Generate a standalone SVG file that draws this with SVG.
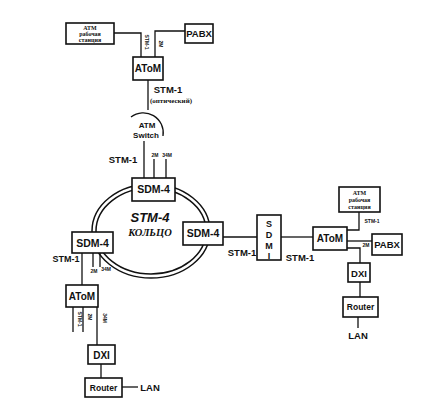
<svg xmlns="http://www.w3.org/2000/svg" width="437" height="403" viewBox="0 0 437 403">
<style>
.box{fill:#fff;stroke:#111;stroke-width:1.6}
.ln{fill:none;stroke:#111;stroke-width:1.3}
.t{font-family:"Liberation Sans",Arial,sans-serif;font-weight:bold;fill:#111;text-anchor:middle}
.b{font-size:10.5px}
.l{font-size:9px}
.s{font-size:5px}
.w{font-family:"Liberation Serif","Times New Roman",serif;font-weight:bold;font-size:6px;fill:#111;text-anchor:middle}
</style>
<rect width="437" height="403" fill="#fff"/>
<g id="connectors">
<path class="ln" d="M114,33 H141 V57"/>
<path class="ln" d="M185,31 H155 V57"/>
<path class="ln" d="M148,80 V110"/>
<path class="ln" d="M131,117 A20,20 0 0 1 163,136"/>
<path class="ln" d="M144,141 V178"/>
<path class="ln" d="M154,159 V178 M166,159 V178"/>
<ellipse cx="151" cy="231" rx="59" ry="47" fill="none" stroke="#111" stroke-width="1.5"/>
<ellipse cx="151" cy="231" rx="55" ry="43" fill="none" stroke="#111" stroke-width="1.5"/>
<path class="ln" d="M82,253 V285"/>
<path class="ln" d="M93,253 V267 M100,253 V267"/>
<path class="ln" d="M73,307 V332 M83,307 V332"/>
<path class="ln" d="M97,307 V345"/>
<path class="ln" d="M101,364 V378"/>
<path class="ln" d="M122,387 H138"/>
<path class="ln" d="M223,237 H257"/>
<path class="ln" d="M281,237 H313"/>
<path class="ln" d="M359,212 V230 H347"/>
<path class="ln" d="M347,241 H372"/>
<path class="ln" d="M347,248 H360 V263"/>
<path class="ln" d="M360,282 V297"/>
<path class="ln" d="M358,317 V328"/>
</g>
<g id="labels">
<text class="t s" transform="translate(145,42) rotate(90)">STM-1</text>
<text class="t s" transform="translate(159,44) rotate(90)">2M</text>
<text class="t l" x="168" y="93" style="font-size:9.5px">STM-1</text>
<text class="w" x="171" y="103" style="font-size:7px">(оптический)</text>
<text class="t l" x="147" y="128" style="font-size:8px">ATM</text>
<text class="t l" x="146" y="138" style="font-size:8px">Switch</text>
<text class="t l" x="123" y="163" style="font-size:9.5px">STM-1</text>
<text class="t s" x="155" y="157">2M</text>
<text class="t s" x="167" y="157">34M</text>
<text class="t" x="150" y="222" style="font-size:13px;font-style:italic">STM-4</text>
<text class="t" x="150" y="236" style="font-size:10.5px;font-style:italic;font-family:'Liberation Serif',serif">КОЛЬЦО</text>
<text class="t l" x="66" y="262" style="font-size:9px">STM-1</text>
<text class="t s" x="94" y="273">2M</text>
<text class="t s" x="106" y="271">34M</text>
<text class="t s" transform="translate(78,319) rotate(90)">STM-1</text>
<text class="t s" transform="translate(88,317) rotate(90)">2M</text>
<text class="t s" transform="translate(103,318) rotate(90)">34M</text>
<text class="t l" x="150" y="391" style="font-size:9.5px">LAN</text>
<text class="t l" x="242" y="256" style="font-size:9.5px">STM-1</text>
<text class="t l" x="300" y="261" style="font-size:9.5px">STM-1</text>
<text class="t s" x="372" y="223">STM-1</text>
<text class="t s" x="366" y="247">2M</text>
<text class="t l" x="358" y="339" style="font-size:9.5px">LAN</text>
</g>
<g id="atm-ws-1">
<rect class="box" x="66" y="23" width="48" height="21"/>
<text class="w" x="90" y="30">ATM</text>
<text class="w" x="90" y="36">рабочая</text>
<text class="w" x="90" y="42">станция</text>
</g>
<g id="pabx-1">
<rect class="box" x="185" y="24" width="28" height="19"/>
<text class="t b" x="199" y="37" style="font-size:9.5px">PABX</text>
</g>
<g id="atom-1">
<rect class="box" x="133" y="57" width="30" height="23"/>
<text class="t b" x="148" y="72" style="font-size:10px">AToM</text>
</g>
<g id="sdm4-top">
<rect class="box" x="132" y="178" width="43" height="23"/>
<text class="t b" x="153.5" y="193">SDM-4</text>
</g>
<g id="sdm4-right">
<rect class="box" x="183" y="222" width="40" height="23"/>
<text class="t b" x="203" y="237">SDM-4</text>
</g>
<g id="sdm4-left">
<rect class="box" x="72" y="232" width="41" height="21"/>
<text class="t b" x="92.5" y="246.5">SDM-4</text>
</g>
<g id="atom-2">
<rect class="box" x="66" y="285" width="32" height="22"/>
<text class="t b" x="82" y="300" style="font-size:10px">AToM</text>
</g>
<g id="dxi-1">
<rect class="box" x="88" y="345" width="27" height="19"/>
<text class="t b" x="101.5" y="358.5" style="font-size:10px">DXI</text>
</g>
<g id="router-1">
<rect class="box" x="85" y="378" width="37" height="19"/>
<text class="t" x="103.5" y="391" style="font-size:8.5px">Router</text>
</g>
<g id="sdmi">
<rect class="box" x="257" y="215" width="24" height="45"/>
<text class="t" x="269" y="227" style="font-size:9px">S</text>
<text class="t" x="269" y="238" style="font-size:9px">D</text>
<text class="t" x="269" y="249" style="font-size:9px">M</text>
<text class="t" x="269" y="259" style="font-size:9px">I</text>
</g>
<g id="atom-3">
<rect class="box" x="313" y="227" width="34" height="23"/>
<text class="t b" x="330" y="242" style="font-size:10px">AToM</text>
</g>
<g id="atm-ws-2">
<rect class="box" x="339" y="187" width="41" height="25"/>
<text class="w" x="359.5" y="195">ATM</text>
<text class="w" x="359.5" y="202">рабочая</text>
<text class="w" x="359.5" y="209">станция</text>
</g>
<g id="pabx-2">
<rect class="box" x="372" y="234" width="30" height="21"/>
<text class="t b" x="387" y="248" style="font-size:9.5px">PABX</text>
</g>
<g id="dxi-2">
<rect class="box" x="348" y="263" width="22" height="19"/>
<text class="t b" x="359" y="276.5" style="font-size:9.5px">DXI</text>
</g>
<g id="router-2">
<rect class="box" x="343" y="297" width="35" height="20"/>
<text class="t" x="360.5" y="310" style="font-size:8.5px">Router</text>
</g>
</svg>
